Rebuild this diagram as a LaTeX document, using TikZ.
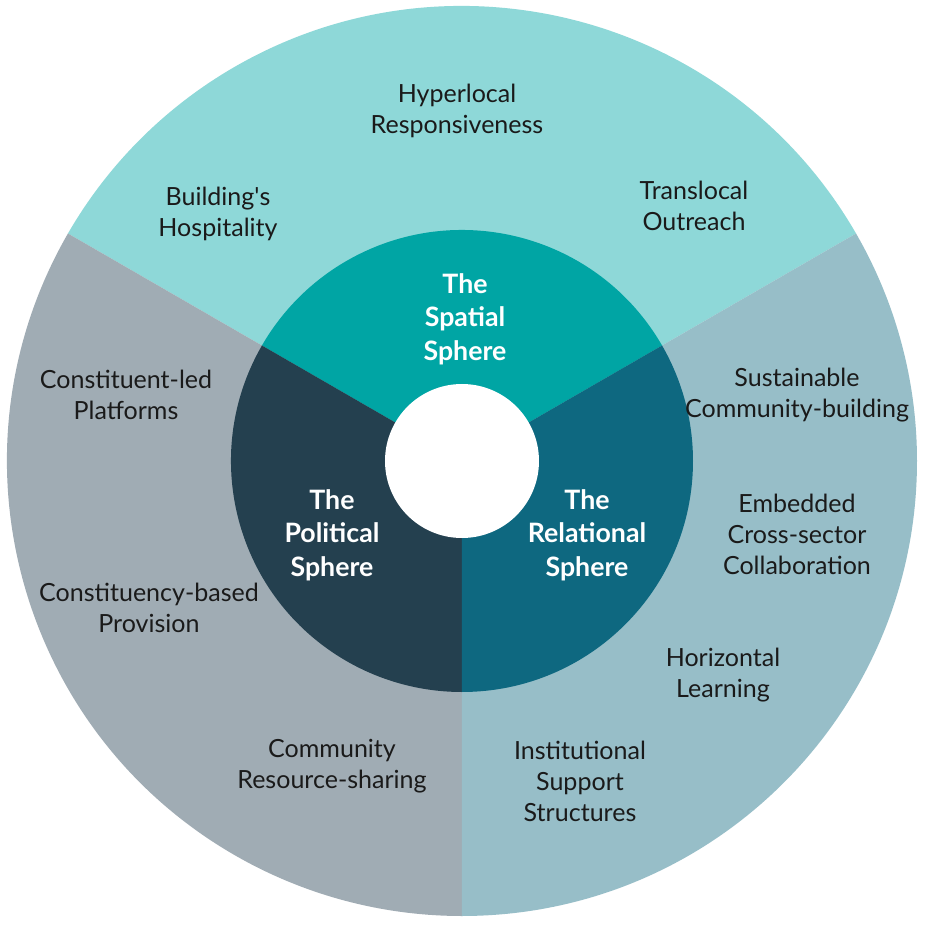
\documentclass[tikz,border=0pt]{standalone}
\usepackage{fontspec}
\setmainfont{Lato}
\usepackage{tikz}
\usetikzlibrary{positioning,calc}

\definecolor{spatialout}{HTML}{8ED8D8}
\definecolor{politicalout}{HTML}{A0ACB4}
\definecolor{relationalout}{HTML}{97BEC8}
\definecolor{spatialin}{HTML}{00A5A4}
\definecolor{politicalin}{HTML}{24404F}
\definecolor{relationalin}{HTML}{0E6880}
\definecolor{labelink}{HTML}{1A1A1A}

\tikzset{
  itemtext/.style={align=center, text=labelink, font=\fontsize{17.8}{22}\selectfont, inner sep=0pt},
  spheretext/.style={align=center, text=white, font=\fontsize{19}{23.8}\selectfont\bfseries, inner sep=0pt}
}

\begin{document}
\begin{tikzpicture}[x=0.025cm,y=0.025cm]
				\useasboundingbox (-462,-467) rectangle (465,461);
				\fill[white] (-462,-467) rectangle (465,461);
				
				%outer ring
				\fill[spatialout] (0,0) -- (30:455) arc (30:150:455) -- cycle;
				\fill[politicalout] (0,0) -- (150:455) arc (150:270:455) -- cycle;
				\fill[relationalout] (0,0) -- (270:455) arc (270:390:455) -- cycle;
				
				%inner ring
				\fill[spatialin] (0,0) -- (30:231) arc (30:150:231) -- cycle;
				\fill[politicalin] (0,0) -- (150:231) arc (150:270:231) -- cycle;
				\fill[relationalin] (0,0) -- (270:231) arc (270:390:231) -- cycle;
				\fill[white] (0,0) circle (77);
				
				%spheres
				\draw (3,142) node [spheretext] (spatial) {The\\Spatial\\Sphere};
				\draw (-130,-74) node [spheretext] (political) {The\\Political\\Sphere};
				\draw (125,-74) node [spheretext] (relational) {The\\Relational\\Sphere};
				
				%spatial labels
				\draw (-5,350) node [itemtext] (hyperlocal) {Hyperlocal\\Responsiveness};
				\draw (-244,247) node [itemtext] (hospitality) {Building\textquotesingle s\\Hospitality};
				\draw (232,255) node [itemtext] (translocal) {Translocal\\Outreach};
				
				%political labels
				\draw (-336,66) node [itemtext] (platforms) {Constituent-led\\Platforms};
				\draw (-313,-147) node [itemtext] (provision) {Constituency-based\\Provision};
				\draw (-130,-305) node [itemtext] (sharing) {Community\\Resource-sharing};
				
				%relational labels
				\draw (335,66) node [itemtext] (sustainable) {Sustainable\\Community-building};
				\draw (335,-73) node [itemtext] (embedded) {Embedded\\Cross-sector\\Collaboration};
				\draw (261,-214) node [itemtext] (horizontal) {Horizontal\\Learning};
				\draw (118,-320) node [itemtext] (institutional) {Institutional\\Support\\Structures};
\end{tikzpicture}
\end{document}
